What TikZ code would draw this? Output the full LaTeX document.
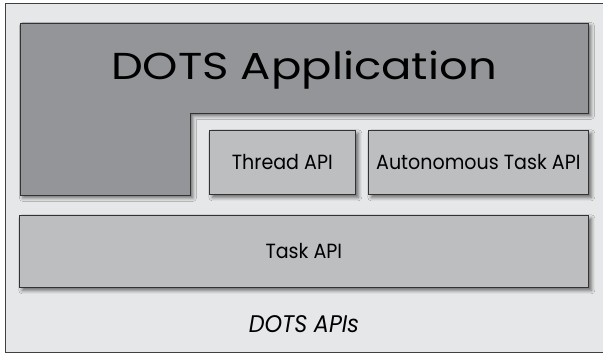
\documentclass[tikz,border=0pt]{standalone}
\usepackage{fontspec}
\setmainfont{Poppins}
\newfontfamily\boxfont[FakeStretch=0.93]{Poppins}
\newfontfamily\appfont[FakeStretch=1.2]{Poppins}
\usetikzlibrary{shadows.blur}
\definecolor{bggray}{RGB}{230,231,232}
\definecolor{appgray}{RGB}{147,149,152}
\definecolor{apigray}{RGB}{188,190,192}

\begin{document}
\begin{tikzpicture}[x=0.03cm,y=-0.03cm]

\tikzset{layer/.style = {draw=black!80, line width=0.6pt, fill=apigray, inner sep=0pt,
  anchor=north west, font=\boxfont\fontsize{17.5}{20}\selectfont,
  blur shadow={shadow xshift=2.5pt, shadow yshift=-2.5pt, shadow blur radius=3pt, shadow opacity=55}}}
\useasboundingbox (0,0) rectangle (603,355);
%frame
\node[draw=black!75, line width=0.6pt, fill=bggray, inner sep=0pt, anchor=north west,
  minimum width=18.15cm, minimum height=10.47cm] (frame) at (5,3) {};
%application
\draw[layer, fill=appgray] (20,23) -- (588,23) -- (588,113) -- (190,113) -- (190,195) -- (20,195) -- cycle;
\node[font=\appfont\fontsize{32}{38}\selectfont, anchor=base] (app) at (304,79) {DOTS Application};
%apis
\node[layer, minimum width=4.38cm, minimum height=1.92cm] (thread) at (209,130) {Thread API};
\node[layer, minimum width=6.6cm, minimum height=1.92cm] (auto) at (368,130) {Autonomous Task API};
\node[layer, minimum width=17.07cm, minimum height=2.16cm] (task) at (19,215) {Task API};
\node[font=\boxfont\itshape\fontsize{20.5}{24}\selectfont, anchor=base] (apis) at (304,332) {DOTS APIs};

\end{tikzpicture}
\end{document}
